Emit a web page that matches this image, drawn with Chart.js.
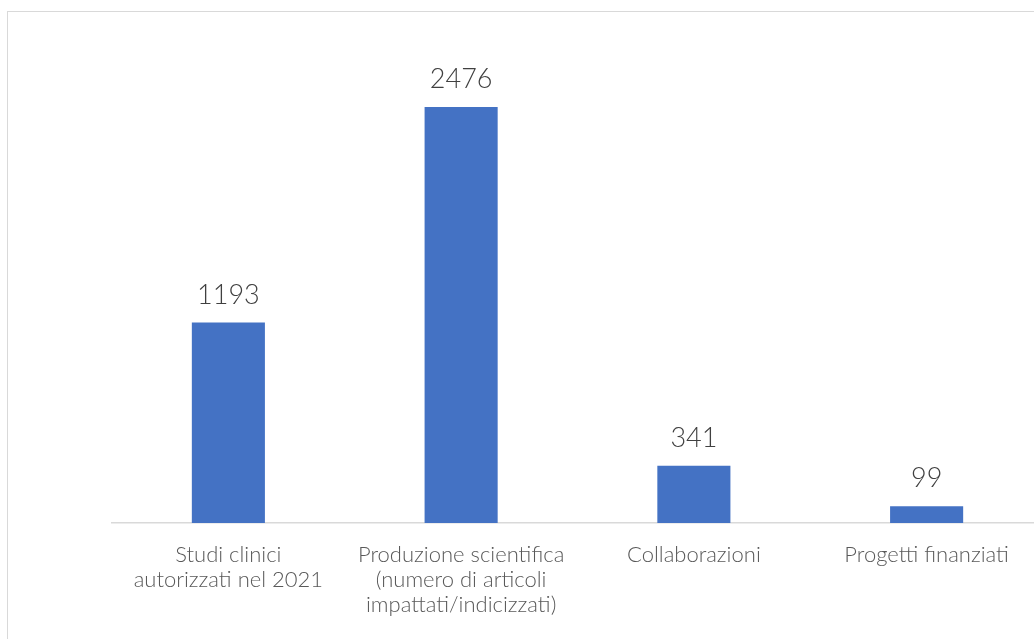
<!DOCTYPE html>
<html>
<head>
<meta charset="utf-8">
<script src="https://cdn.jsdelivr.net/npm/chart.js@4"></script>
<style>
    html, body { margin: 0; padding: 0; background: #fff; overflow: hidden; }
    #wrap { position: relative; width: 1034px; height: 639px; overflow: hidden; }
    #frame { position: absolute; left: 7px; top: 11px; width: 1100px; height: 700px; border: 1px solid #d9d9d9; box-sizing: border-box; }
    #box { position: absolute; left: 0; top: 0; width: 1060px; height: 639px; }
</style>
</head>
<body>
<div id="wrap">
    <div id="frame"></div>
    <div id="box"><canvas id="chart"></canvas></div>
</div>
<script>
// Data ==========================
const categories = [
    ["Studi clinici", "autorizzati nel 2021"],
    ["Produzione scientifica", "(numero di articoli", "impattati/indicizzati)"],
    ["Collaborazioni"],
    ["Progetti finanziati"]
];
const values = [1193, 2476, 341, 99];

// Value labels above bars
const valueLabels = {
    id: "valueLabels",
    afterDatasetsDraw(chart) {
        const c = chart.ctx;
        const meta = chart.getDatasetMeta(0);
        c.save();
        c.font = "300 27px Lato";
        c.fillStyle = "#404040";
        c.textAlign = "center";
        c.textBaseline = "alphabetic";
        meta.data.forEach((bar, i) => {
            c.fillText(String(values[i]), bar.x, bar.y - 19);
        });
        c.restore();
    }
};

const ctx = document.getElementById("chart").getContext("2d");
const chart = new Chart(ctx, {
    type: "bar",
    data: {
        labels: categories,
        datasets: [{
            data: values,
            backgroundColor: "#4472C4",
            borderWidth: 0,
            barPercentage: 0.314,
            categoryPercentage: 1
        }]
    },
    options: {
        responsive: true,
        maintainAspectRatio: false,
        animation: false,
        layout: { padding: { left: 112, right: 17, top: 19, bottom: 11 } },
        plugins: {
            legend: { display: false },
            tooltip: { enabled: false }
        },
        scales: {
            x: {
                grid: { display: false },
                border: { color: "#d9d9d9", width: 1.5 },
                ticks: {
                    color: "#595959",
                    font: { family: "Lato", weight: "300", size: 22, lineHeight: "25px" },
                    padding: 11,
                    maxRotation: 0,
                    autoSkip: false
                }
            },
            y: {
                display: false,
                min: 0,
                max: 3000
            }
        }
    },
    plugins: [valueLabels]
});
</script>
</body>
</html>
